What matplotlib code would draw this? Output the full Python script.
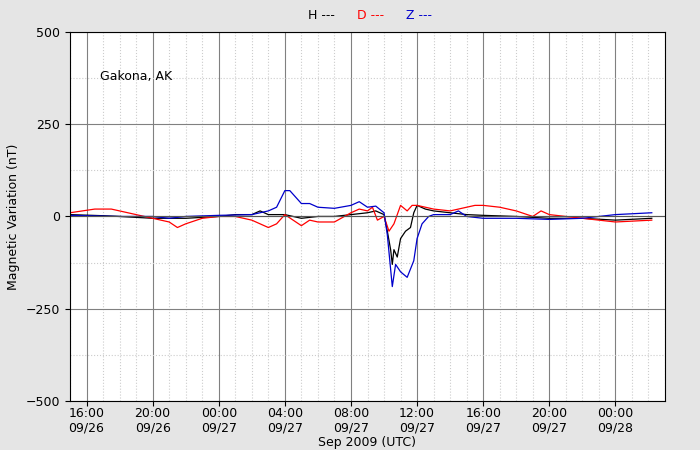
import matplotlib
matplotlib.use("Agg")
import matplotlib.pyplot as plt
import numpy as np

# hours since 2009-09-26 00:00 UTC
h_t = [15, 17, 18, 20, 22, 24, 25, 26, 26.5, 27, 28, 29, 30, 31, 32, 33, 33.5, 34, 34.2, 34.4,
       34.5, 34.6, 34.8, 35, 35.3, 35.6, 35.8, 36, 36.5, 37, 38, 39, 40, 42, 44, 46, 48, 50.2]
h_v = [5, 2, 0, -5, -5, 0, 5, 5, 15, 5, 5, -5, 0, 0, 5, 10, 15, 5, -40, -90,
       -130, -90, -110, -60, -40, -30, 10, 30, 20, 15, 10, 5, 3, 0, -5, -5, -10, -5]

d_t = [15, 16.5, 17.5, 18, 19, 21, 21.5, 22, 23, 24, 25, 26, 27, 27.5, 28, 28.5, 29, 29.5, 30,
       31, 32, 32.5, 33, 33.3, 33.6, 34, 34.3, 34.6, 35, 35.4, 35.7, 36, 37, 38, 39, 39.5, 40,
       41, 42, 43, 43.5, 44, 46, 48, 50.2]
d_v = [10, 20, 20, 15, 5, -15, -30, -20, -5, 0, 0, -10, -30, -20, 5, -10, -25, -10, -15,
       -15, 10, 20, 15, 25, -10, 0, -40, -20, 30, 15, 30, 30, 20, 15, 25, 30, 30,
       25, 15, 0, 15, 5, -5, -15, -10]

z_t = [15, 18, 20, 21, 22, 24, 26, 27, 27.5, 28, 28.3, 28.7, 29, 29.5, 30, 31, 32, 32.5, 33,
       33.5, 34, 34.2, 34.5, 34.7, 35, 35.4, 35.8, 36, 36.3, 36.7, 37, 38, 38.5, 39, 40, 42,
       44, 46, 48, 50.2]
z_v = [3, 0, 0, -5, 0, 3, 5, 15, 25, 70, 70, 50, 35, 35, 25, 22, 30, 40, 25,
       28, 10, -50, -190, -130, -150, -165, -120, -60, -20, 0, 5, 5, 15, 0, -5, -5,
       -8, -5, 5, 10]

tick_hours = [16, 20, 24, 28, 32, 36, 40, 44, 48]
tick_labels = ["16:00\n09/26", "20:00\n09/26", "00:00\n09/27", "04:00\n09/27", "08:00\n09/27",
               "12:00\n09/27", "16:00\n09/27", "20:00\n09/27", "00:00\n09/28"]

fig = plt.figure(figsize=(7, 4.5), dpi=100, facecolor="#e5e5e5")
ax = fig.add_axes([0.1, 0.109, 0.85, 0.82])

ax.plot(h_t, h_v, color="black", linewidth=0.9)
ax.plot(d_t, d_v, color="red", linewidth=0.9)
ax.plot(z_t, z_v, color="#0000cc", linewidth=0.9)

ax.set_xlim(15, 51)
ax.set_ylim(-500, 500)
ax.set_xticks(tick_hours)
ax.set_xticklabels(tick_labels, fontsize=9, linespacing=1.15)
ax.set_xticks(np.arange(15, 52, 1), minor=True)
ax.set_yticks([-500, -250, 0, 250, 500])
ax.set_yticklabels(["\u2212500", "\u2212250", "0", "250", "500"], fontsize=9)
ax.set_yticks(np.arange(-500, 501, 125), minor=True)
ax.grid(which="major", color="gray", linewidth=0.8)
ax.grid(which="minor", color="#cccccc", linestyle=":", linewidth=0.8)
ax.axhline(0, color="#555555", linewidth=0.8)
ax.tick_params(which="minor", length=0)
ax.tick_params(axis="x", which="major", pad=1)
ax.set_axisbelow(True)

ax.set_xlabel("Sep 2009 (UTC)", fontsize=9, labelpad=1)
ax.set_ylabel("Magnetic Variation (nT)", fontsize=9)
ax.text(0.05, 0.87, "Gakona, AK", transform=ax.transAxes, fontsize=9)

fig.text(0.44, 0.965, "H ---", color="black", fontsize=9, ha="left", va="center")
fig.text(0.51, 0.965, "D ---", color="red", fontsize=9, ha="left", va="center")
fig.text(0.58, 0.965, "Z ---", color="#0000cc", fontsize=9, ha="left", va="center")

fig.savefig("out.png", dpi=100, facecolor=fig.get_facecolor())
